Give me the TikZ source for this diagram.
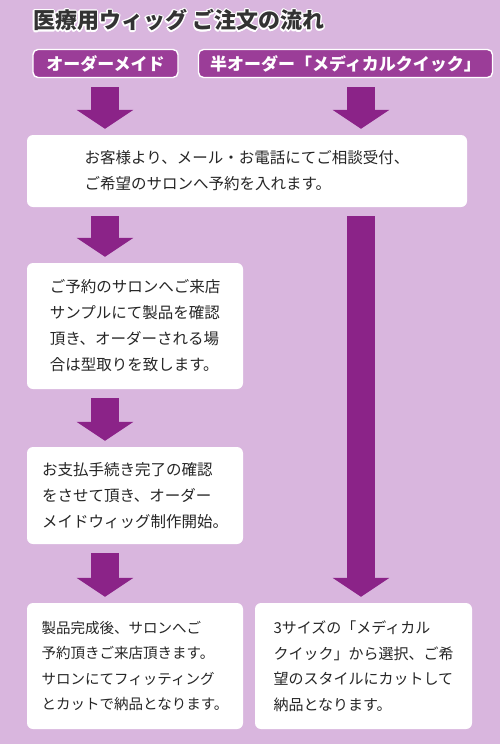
\documentclass[tikz,border=0pt]{standalone}
\usepackage{fontspec}
\usepackage{xcolor}
\usepackage{contour}
\usetikzlibrary{arrows.meta, positioning}
\newfontfamily\jpfont{Noto Sans CJK JP}
\contourlength{1.2pt}
\definecolor{bgpurple}{HTML}{D9B6DE}
\definecolor{tabpurple}{HTML}{9B3D98}
\definecolor{flowpurple}{HTML}{8B2388}
\definecolor{titlegray}{HTML}{333333}

\begin{document}
\begin{tikzpicture}[x=1pt, y=-1pt,
    % Tabs naming the two order routes: white text on purple.
    routetab/.style={rectangle, draw=white, fill=tabpurple, line width=1.4pt,
                     rounded corners=5pt, inner sep=0pt, text=white,
                     minimum height=28pt,
                     font=\jpfont\bfseries\fontsize{17}{20}\selectfont},
    % Step boxes: white rounded panels with left-aligned text.
    stepbox/.style={rectangle, fill=white, rounded corners=6pt,
                    inner sep=0pt, align=left, text=black!85,
                    font=\jpfont\fontsize{15.5}{26}\selectfont},
    % Fat block arrows between steps.
    flow/.style={line width=28pt, color=flowpurple,
                 -{Triangle[length=19pt, width=56pt]},
                 shorten <=9pt, shorten >=6pt}
]

    % === Page and bounding box ===
    \fill[bgpurple] (0,0) rectangle (500,744);
    \useasboundingbox (0,0) rectangle (500,744);

    % === Title ===
    % White halo round the dark title, as printed.
    \node[anchor=west, inner sep=0pt, text=titlegray,
          font=\jpfont\bfseries\fontsize{22}{24}\selectfont]
        (title) at (33,21) {\contour{white}{医療用ウィッグ ご注文の流れ}};

    % === Route tabs ===
    \node[routetab, minimum width=145pt] (order) at (105.5,63.5) {オーダーメイド};
    \node[routetab, minimum width=294pt] (semi)  at (345.5,63.5) {半オーダー「メディカルクイック」};

    % Arrow columns: left route and right route.
    \coordinate (lcol) at (105,0);
    \coordinate (rcol) at (361,0);

    % === Step 1: shared by both routes ===
    \node[stepbox, minimum width=440pt, minimum height=72pt] (ask) at (247,171)
        {お客様より、メール・お電話にてご相談受付、\\
         ご希望のサロンへ予約を入れます。};

    % === Left route: made to order ===
    \node[stepbox, minimum width=216pt, minimum height=126pt] (visit) at (135,326)
        {ご予約のサロンへご来店\\
         サンプルにて製品を確認\\
         頂き、オーダーされる場\\
         合は型取りを致します。};
    \node[stepbox, minimum width=216pt, minimum height=97pt] (pay) at (135,495.5)
        {お支払手続き完了の確認\\
         をさせて頂き、オーダー\\
         メイドウィッグ制作開始。};
    \node[stepbox, minimum width=216pt, minimum height=126pt,
          font=\jpfont\fontsize{14.5}{25.5}\selectfont] (finish) at (135,666)
        {製品完成後、サロンへご\\
         予約頂きご来店頂きます。\\
         サロンにてフィッティング\\
         とカットで納品となります。};

    % === Right route: semi-order ===
    \node[stepbox, minimum width=217pt, minimum height=126pt,
          font=\jpfont\fontsize{15}{25.5}\selectfont] (quick) at (363.5,666)
        {3サイズの「メディカル\\
         クイック」から選択、ご希\\
         望のスタイルにカットして\\
         納品となります。};

    % === Flow arrows ===
    \draw[flow] (order.south -| lcol) -- (ask.north -| lcol);
    \draw[flow] (semi.south -| rcol)  -- (ask.north -| rcol);
    \draw[flow] (ask.south -| lcol)   -- (visit.north -| lcol);
    \draw[flow] (visit.south -| lcol) -- (pay.north -| lcol);
    \draw[flow] (pay.south -| lcol)   -- (finish.north -| lcol);
    % The semi-order route skips the salon steps.
    \draw[flow] (ask.south -| rcol)   -- (quick.north -| rcol);

\end{tikzpicture}
\end{document}
